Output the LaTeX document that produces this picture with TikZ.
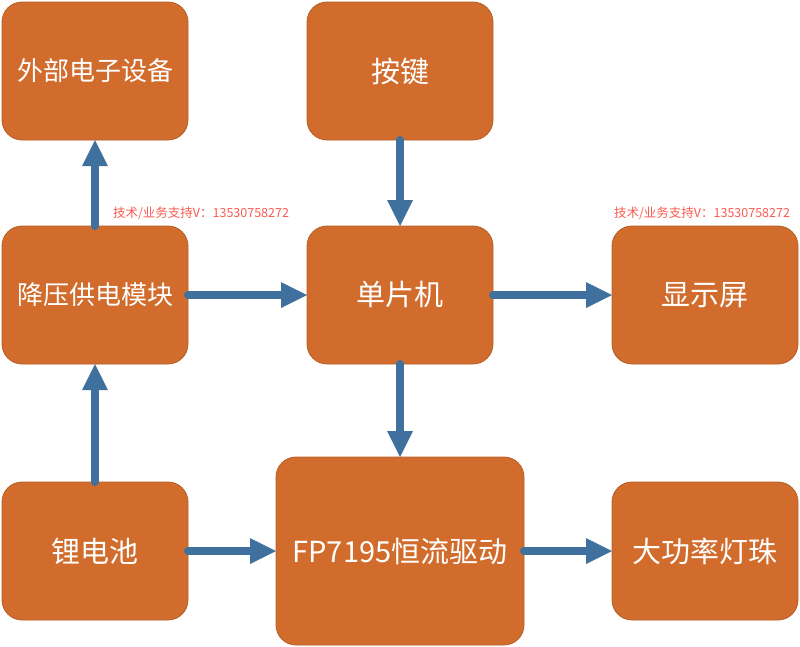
\documentclass[tikz,border=0pt]{standalone}
\usepackage{fontspec}
\setmainfont{Noto Sans CJK SC}
\usetikzlibrary{arrows.meta}
\definecolor{boxfill}{RGB}{209,108,44}
\definecolor{boxline}{RGB}{182,96,38}
\definecolor{flowblue}{RGB}{64,112,158}
\definecolor{notered}{RGB}{250,90,80}

\begin{document}
\begin{tikzpicture}[x=1pt,y=1pt,->,>={Triangle[width=26pt,length=26pt,line width=0pt]},line width=8pt,line cap=round,node distance=305pt,
    block/.style={rectangle,rounded corners=20pt,draw=boxline,line width=0.8pt,fill=boxfill,text=white,minimum width=186pt,minimum height=138pt,inner sep=0pt,outer sep=0pt,font=\fontsize{29pt}{33pt}\selectfont},
    long text/.style={font=\fontsize{26pt}{30pt}\selectfont},
    note/.style={text=notered,inner sep=0pt,font=\fontsize{12.5pt}{14pt}\selectfont}]

            \useasboundingbox (0,0) rectangle (800,-646);

            \node[block, long text] (ext) at (95,-71) {外部电子设备};
            \node[block] (keys) [right of=ext] {按键};

            \node[block, long text] (buck) [node distance=224pt, below of=ext] {降压供电模块};
            \node[block] (mcu) [right of=buck] {单片机};
            \node[block] (disp) [right of=mcu] {显示屏};

            \node[block] (batt) [node distance=256pt, below of=buck] {锂电池};
            \node[block, minimum width=248pt, minimum height=188pt] (drv) [right of=batt] {FP7195恒流驱动};
            \node[block] (led) [right of=drv] {大功率灯珠};

            \node[note] (note1) at (201,-213) {技术/业务支持V：13530758272};
            \node[note] (note2) at (702,-213) {技术/业务支持V：13530758272};

            \path[color=flowblue]
                (buck) edge (ext)
                (keys) edge (mcu)
                (buck) edge (mcu)
                (mcu) edge (disp)
                (mcu) edge (drv)
                (batt) edge (buck)
                (batt) edge (drv)
                (drv) edge (led)
                ;
        \end{tikzpicture}
\end{document}
